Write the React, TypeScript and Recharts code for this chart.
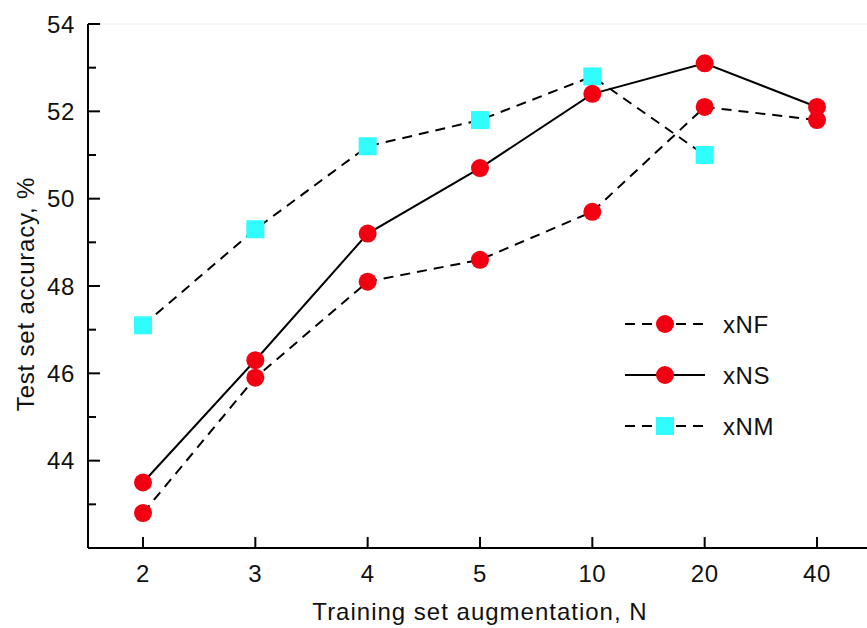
import React from 'react';
import { LineChart, Line, XAxis, YAxis, Legend, ReferenceLine } from 'recharts';

const categories = ['2', '3', '4', '5', '10', '20', '40'];
const xNF = [42.8, 45.9, 48.1, 48.6, 49.7, 52.1, 51.8];
const xNS = [43.5, 46.3, 49.2, 50.7, 52.4, 53.1, 52.1];
const xNM: (number | null)[] = [47.1, 49.3, 51.2, 51.8, 52.8, 51.0, null];
const yTicks = [42, 43, 44, 45, 46, 47, 48, 49, 50, 51, 52, 53, 54];

const data = categories.map((c, i) => ({ n: c, xNF: xNF[i], xNS: xNS[i], xNM: xNM[i] }));

const FONT = '"Liberation Sans", Arial, Helvetica, sans-serif';
const RED = '#f20012';
const CYAN = '#30fdfd';
const DASH = '10 7';

const YTick = (props: any) => {
  const { x, y, payload } = props;
  const v = payload.value;
  if (v === 42) return <g />;
  const major = v % 2 === 0;
  return (
    <g>
      <line x1={x} x2={x + (major ? 12 : 8)} y1={y} y2={y} stroke="#000" strokeWidth={2} />
      {major && (
        <text x={x - 13} y={y} dy={8.6} textAnchor="end" fontSize={24} fontFamily={FONT} fill="#111" letterSpacing={0.6}>
          {v}
        </text>
      )}
    </g>
  );
};

const XTick = (props: any) => {
  const { x, y, payload } = props;
  return (
    <g>
      <line x1={x} x2={x} y1={y} y2={y - 11} stroke="#000" strokeWidth={2} />
      <text x={x} y={y + 34} textAnchor="middle" fontSize={24} fontFamily={FONT} fill="#111" letterSpacing={0.6}>
        {payload.value}
      </text>
    </g>
  );
};

const SquareDot = (props: any) => {
  const { cx, cy, index } = props;
  if (cx == null || cy == null) return <g key={`sq-${index}`} />;
  return <rect key={`sq-${index}`} x={cx - 9} y={cy - 9} width={18} height={18} fill={CYAN} />;
};

const CircleDot = (props: any) => {
  const { cx, cy, index } = props;
  if (cx == null || cy == null) return <g key={`c-${index}`} />;
  return <circle key={`c-${index}`} cx={cx} cy={cy} r={9} fill={RED} stroke="none" />;
};

const legendItems = [
  { name: 'xNF', dash: DASH, marker: 'circle' },
  { name: 'xNS', dash: undefined, marker: 'circle' },
  { name: 'xNM', dash: DASH, marker: 'square' },
];

const renderLegend = () => (
  <svg width={220} height={160}>
    {legendItems.map((it, i) => {
      const cy = 29 + i * 51;
      return (
        <g key={it.name}>
          <line x1={15} x2={95} y1={cy} y2={cy} stroke="#000" strokeWidth={2} strokeDasharray={it.dash} />
          {it.marker === 'circle' ? (
            <circle cx={55} cy={cy} r={9} fill={RED} />
          ) : (
            <rect x={46} y={cy - 9} width={18} height={18} fill={CYAN} />
          )}
          <text x={113} y={cy + 8.6} fontSize={24} fontFamily={FONT} fill="#111" letterSpacing={0.6}>
            {it.name}
          </text>
        </g>
      );
    })}
  </svg>
);

const YLabel = () => (
  <text
    x={17}
    y={286}
    transform="rotate(-90 17 286)"
    textAnchor="middle"
    dominantBaseline="central"
    fontSize={24}
    fontFamily={FONT}
    fill="#111"
    letterSpacing={0.8}
  >
    Test set accuracy, %
  </text>
);

const XLabel = () => (
  <text x={472} y={612} textAnchor="middle" fontSize={24} fontFamily={FONT} fill="#111" letterSpacing={1}>
    Training set augmentation, N
  </text>
);

export default function App() {
  return (
    <div style={{ position: 'absolute', left: 8, top: 8, width: 859, height: 620, overflow: 'hidden' }}>
      <LineChart width={872} height={620} data={data} margin={{ top: 16, right: 0, bottom: 0, left: 0 }}>
        <XAxis
          dataKey="n"
          height={80}
          padding={{ left: 55, right: 63 }}
          axisLine={{ stroke: '#000', strokeWidth: 2 }}
          tickLine={false}
          tickSize={0}
          tickMargin={0}
          interval={0}
          tick={<XTick />}
          label={<XLabel />}
        />
        <YAxis
          width={80}
          domain={[42, 54]}
          ticks={yTicks}
          interval={0}
          type="number"
          allowDataOverflow
          axisLine={{ stroke: '#000', strokeWidth: 2 }}
          tickLine={false}
          tickSize={0}
          tickMargin={0}
          tick={<YTick />}
          label={<YLabel />}
        />
        <ReferenceLine y={54} stroke="#eeeeee" strokeWidth={1} />
        <Legend
          layout="vertical"
          align="center"
          verticalAlign="middle"
          content={renderLegend}
          wrapperStyle={{ left: 602, top: 287, width: 220, height: 160 }}
        />
        <Line
          dataKey="xNM"
          stroke="#000"
          strokeWidth={2}
          strokeDasharray={DASH}
          dot={<SquareDot />}
          activeDot={false}
          isAnimationActive={false}
        />
        <Line
          dataKey="xNF"
          stroke="#000"
          strokeWidth={2}
          strokeDasharray={DASH}
          dot={<CircleDot />}
          activeDot={false}
          isAnimationActive={false}
        />
        <Line
          dataKey="xNS"
          stroke="#000"
          strokeWidth={2}
          dot={<CircleDot />}
          activeDot={false}
          isAnimationActive={false}
        />
      </LineChart>
    </div>
  );
}
